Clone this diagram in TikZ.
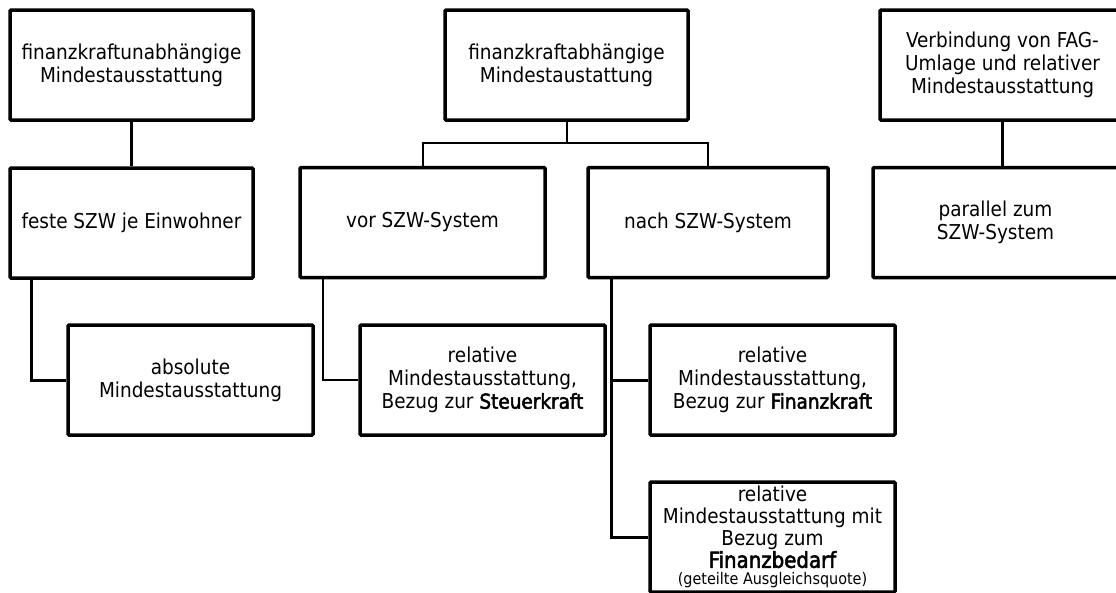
\documentclass[tikz,border=0pt]{standalone}
\usepackage{fontspec}
\setmainfont{DejaVu Sans Condensed}
\newfontface\semibf{DejaVu Sans Condensed}[FakeBold=2.4]
\begin{document}
\begin{tikzpicture}[x=1pt,y=-1pt,
  box/.style={draw=black,line width=3.5pt,rounded corners=1pt,minimum width=243pt,minimum height=110pt,inner sep=0pt,align=center,font=\fontsize{20.5}{23}\selectfont,fill=white},
  thick3/.style={line width=3pt,draw=black},
  thin2/.style={line width=2pt,draw=black}]
\useasboundingbox (0,0) rectangle (1116,592);
\clip (0,0) rectangle (1116,592);
\coordinate (j) at (566.5,143);
\node[box] (A) at (131.5,65) {finanzkraftunabhängige\\Mindestausstattung};
\node[box] (B) at (131.5,223) {feste SZW je Einwohner};
\node[box,minimum width=245pt] (C) at (190.5,380) {absolute\\Mindestausstattung};
\node[box] (D) at (566.5,65) {finanzkraftabhängige\\Mindestaustattung};
\node[box,minimum width=245pt] (E) at (422.5,222.5) {vor SZW-System};
\node[box,minimum width=240pt] (F) at (708,222.5) {nach SZW-System};
\node[box,minimum width=245pt] (G) at (482.5,380) {relative\\Mindestausstattung,\\Bezug zur {\semibf Steuerkraft}};
\node[box,minimum width=245pt] (H) at (772.5,380) {relative\\Mindestausstattung,\\Bezug zur {\semibf Finanzkraft}};
\node[box,minimum width=245pt] (I) at (772.5,537) {};
\node[anchor=north,align=center,inner sep=0pt,font=\fontsize{20.5}{22}\selectfont] (It) at (772.5,486) {relative\\Mindestausstattung mit\\Bezug zum\\{\fontsize{22}{22}\semibf Finanzbedarf}\\[-5pt]{\fontsize{16}{16}\selectfont (geteilte Ausgleichsquote)}};
\node[box,minimum width=245pt] (J) at (1002.5,65) {Verbindung von FAG-\\Umlage und relativer\\Mindestausstattung};
\node[box,minimum width=245pt] (K) at (995.5,222.5) {parallel zum\\SZW-System};
\draw[thick3] (A.south) -- (B.north);
\draw[thick3] ([xshift=23pt]B.south west) |- (C.west);
\draw[thin2] (D.south) -- (j);
\draw[thin2] (E.north) |- (j) -| (F.north);
\draw[thin2] ([xshift=25pt]E.south west) |- (G.west);
\draw[thick3] ([xshift=25pt]F.south west) |- (H.west);
\draw[thick3] ([xshift=25pt]F.south west) |- (I.west);
\draw[thick3] (J.south) -- (J.south |- K.north);
\end{tikzpicture}
\end{document}
